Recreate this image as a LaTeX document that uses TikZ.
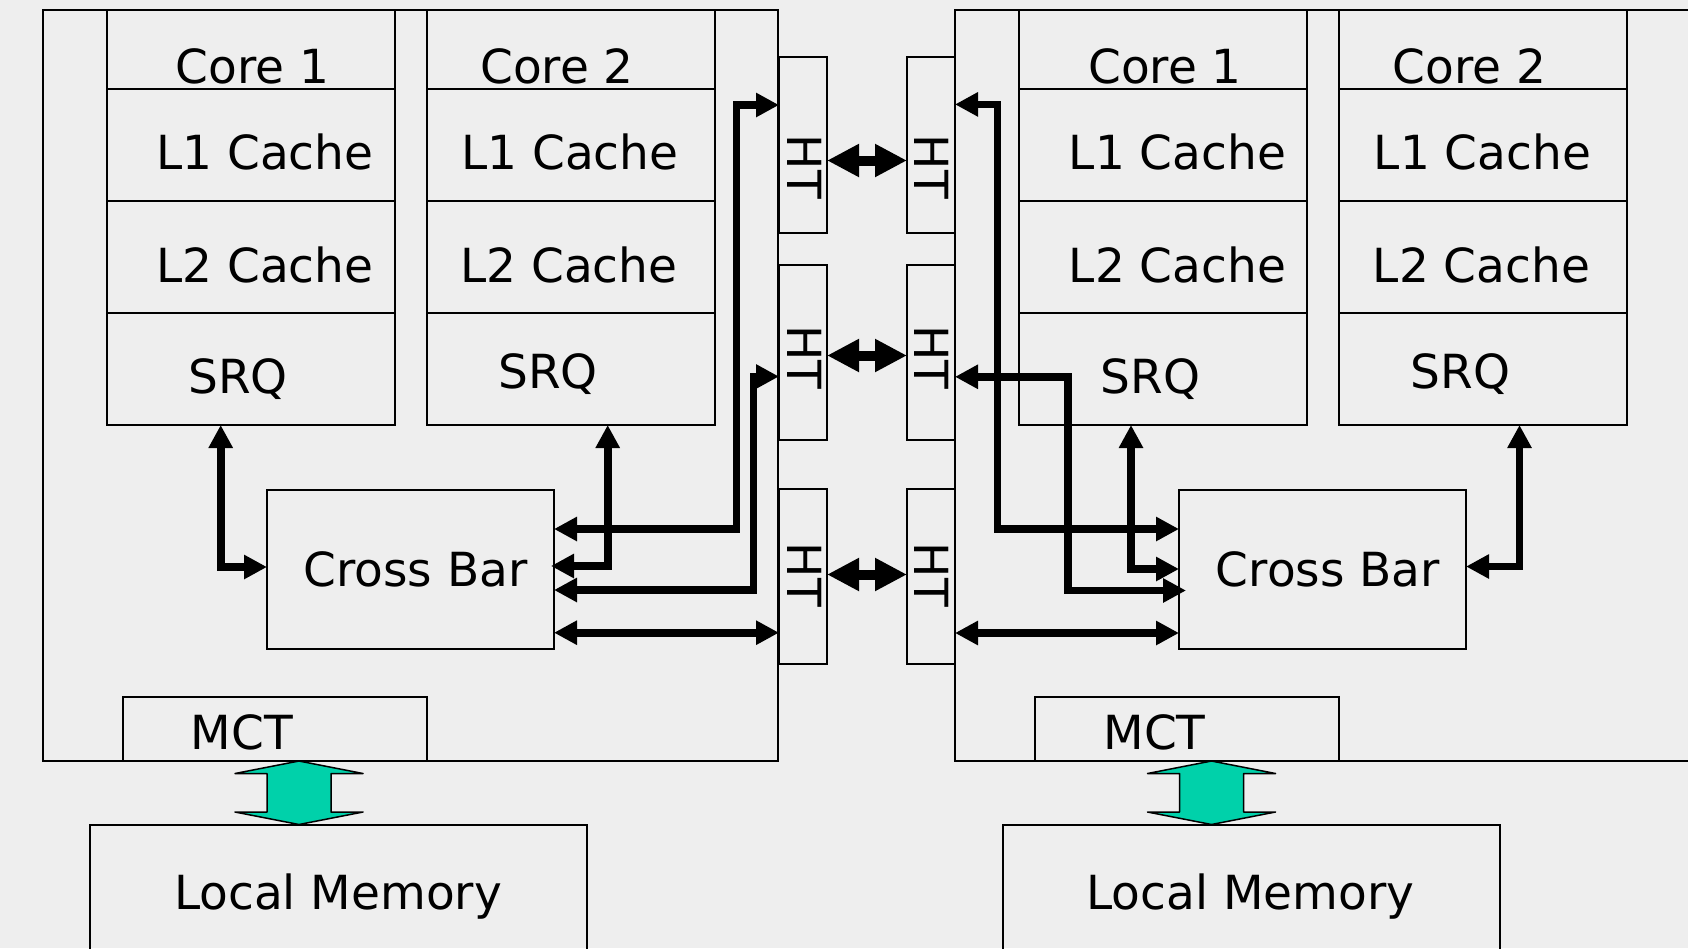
\documentclass[tikz,border=0pt]{standalone}
\usepackage{fontspec}
\setmainfont{DejaVu Sans}
\usetikzlibrary{arrows.meta}
\definecolor{bg}{HTML}{EEEEEE}
\definecolor{memgreen}{RGB}{0,209,170}
\newcommand\mkbox[5]{\node[box, minimum width={(#4-#2)*1pt}, minimum height={(#5-#3)*1pt}] (#1) at (#2,#3) {};}
\begin{document}
\begin{tikzpicture}[x=1pt,y=-1pt,
  box/.style={draw, line width=2.2pt, rectangle, inner sep=0pt, outer sep=0pt, anchor=north west},
  lbl/.style={font=\fontsize{47}{56}\selectfont, inner sep=0pt, anchor=base},
  arr/.style={line width=7.7pt, {Triangle[length=23pt,width=23pt]}-{Triangle[length=23pt,width=23pt]}},
  htarr/.style={line width=10pt, {Triangle[length=32pt,width=31pt]}-{Triangle[length=32pt,width=31pt]}},
  memarrow/.style={draw, line width=1.5pt, fill=memgreen, line join=round}]
\useasboundingbox (0,0) rectangle (1688,948);
\clip (0,0) rectangle (1688,948);
\fill[bg] (0,0) rectangle (1688,948);

% ---------- outer chip boxes ----------
\mkbox{outL}{43}{10}{778}{761}
\mkbox{outR}{955}{10}{1695}{761}

% ---------- left cores ----------
\mkbox{Lc1h}{107}{10}{395}{89}
\mkbox{Lc1a}{107}{89}{395}{201}
\mkbox{Lc1b}{107}{201}{395}{313}
\mkbox{Lc1s}{107}{313}{395}{425}
\mkbox{Lc2h}{427}{10}{715}{89}
\mkbox{Lc2a}{427}{89}{715}{201}
\mkbox{Lc2b}{427}{201}{715}{313}
\mkbox{Lc2s}{427}{313}{715}{425}
% ---------- right cores ----------
\mkbox{Rc1h}{1019}{10}{1307}{89}
\mkbox{Rc1a}{1019}{89}{1307}{201}
\mkbox{Rc1b}{1019}{201}{1307}{313}
\mkbox{Rc1s}{1019}{313}{1307}{425}
\mkbox{Rc2h}{1339}{10}{1627}{89}
\mkbox{Rc2a}{1339}{89}{1627}{201}
\mkbox{Rc2b}{1339}{201}{1627}{313}
\mkbox{Rc2s}{1339}{313}{1627}{425}

% ---------- cross bars, MCT, memory ----------
\mkbox{xbL}{267}{490}{554}{649}
\mkbox{xbR}{1179}{490}{1466}{649}
\mkbox{mctL}{123}{697}{427}{761}
\mkbox{mctR}{1035}{697}{1339}{761}
\mkbox{lmL}{90}{825}{587}{960}
\mkbox{lmR}{1003}{825}{1500}{960}

% ---------- HT boxes ----------
\mkbox{htL1}{779}{57}{827}{233}
\mkbox{htL2}{779}{265}{827}{440}
\mkbox{htL3}{779}{489}{827}{664}
\mkbox{htR1}{907}{57}{955}{233}
\mkbox{htR2}{907}{265}{955}{440}
\mkbox{htR3}{907}{489}{955}{664}

% ---------- texts left ----------
\node[lbl] (tLc1h) at (252.5,83) {Core 1};
\node[lbl] (tLc2h) at (557,83) {Core 2};
\node[lbl] (tLc1a) at (265,169) {L1 Cache};
\node[lbl] (tLc2a) at (570,169) {L1 Cache};
\node[lbl] (tLc1b) at (265,282) {L2 Cache};
\node[lbl] (tLc2b) at (569,282) {L2 Cache};
\node[lbl] (tLc1s) at (238,393) {SRQ};
\node[lbl] (tLc2s) at (548,388) {SRQ};
\node[lbl] (txbL) at (415.5,586) {Cross Bar};
\node[lbl] (tmctL) at (242,749) {MCT};
\node[lbl] (tlmL) at (338,909) {Local Memory};
% ---------- texts right ----------
\node[lbl] (tRc1h) at (1165,83) {Core 1};
\node[lbl] (tRc2h) at (1469.5,83) {Core 2};
\node[lbl] (tRc1a) at (1177.5,169) {L1 Cache};
\node[lbl] (tRc2a) at (1482.5,169) {L1 Cache};
\node[lbl] (tRc1b) at (1177.5,282) {L2 Cache};
\node[lbl] (tRc2b) at (1481.5,282) {L2 Cache};
\node[lbl] (tRc1s) at (1150.5,393) {SRQ};
\node[lbl] (tRc2s) at (1460.5,388) {SRQ};
\node[lbl] (txbR) at (1328,586) {Cross Bar};
\node[lbl] (tmctR) at (1154.5,749) {MCT};
\node[lbl] (tlmR) at (1250.5,909) {Local Memory};
% ---------- HT labels ----------
\node[lbl, rotate=-90] (thtL1) at (787,167) {HT};
\node[lbl, rotate=-90] (thtL2) at (787,357.5) {HT};
\node[lbl, rotate=-90] (thtL3) at (787,575) {HT};
\node[lbl, rotate=-90] (thtR1) at (914,167) {HT};
\node[lbl, rotate=-90] (thtR2) at (914,357.5) {HT};
\node[lbl, rotate=-90] (thtR3) at (914,575) {HT};

% ---------- HT to HT links ----------
\coordinate (h1) at (0,160.5);
\coordinate (h2) at (0,355.5);
\coordinate (h3) at (0,574.5);
\draw[htarr] (h1 -| htL1.east) -- (h1 -| htR1.west);
\draw[htarr] (h2 -| htL2.east) -- (h2 -| htR2.west);
\draw[htarr] (h3 -| htL3.east) -- (h3 -| htR3.west);

% ---------- left connectors ----------
\coordinate (a1) at (220.7,567);
\draw[arr] (Lc1s.south -| a1) -- (a1) -- (a1 -| xbL.west);
\coordinate (a2) at (607.7,566);
\draw[arr] (Lc2s.south -| a2) -- (a2) -- ([xshift=-3pt]a2 -| xbL.east);
\coordinate (a3) at (736.5,529);
\coordinate (a3t) at (736.5,105);
\draw[arr] (a3 -| xbL.east) -- (a3) -- (a3t) -- (a3t -| htL1.west);
\coordinate (a4) at (753.5,590);
\coordinate (a4t) at (753.5,376.5);
\draw[arr] (a4 -| xbL.east) -- (a4) -- (a4t) -- (a4t -| htL2.west);
\coordinate (a5) at (0,632.7);
\draw[arr] (a5 -| xbL.east) -- (a5 -| htL3.west);

% ---------- right connectors ----------
\coordinate (b1) at (997.5,104.4);
\coordinate (b1b) at (997.5,529);
\draw[arr] (b1 -| htR1.east) -- (b1) -- (b1b) -- (b1b -| xbR.west);
\coordinate (b2) at (1068,376.8);
\coordinate (b2b) at (1068,590.5);
\draw[arr] (b2 -| htR2.east) -- (b2) -- (b2b) -- ([xshift=7pt]b2b -| xbR.west);
\coordinate (b3) at (1131,569);
\draw[arr] (Rc1s.south -| b3) -- (b3) -- (b3 -| xbR.west);
\coordinate (b4) at (1519.5,566.5);
\draw[arr] (Rc2s.south -| b4) -- (b4) -- (b4 -| xbR.east);
\coordinate (b5) at (0,633);
\draw[arr] (b5 -| htR3.east) -- (b5 -| xbR.west);

% ---------- memory arrows ----------
\draw[memarrow] (299,761) -- (235,773.5) -- (267,773.5) -- (267,812) -- (235,812)
  -- (299,824.5) -- (363,812) -- (331,812) -- (331,773.5) -- (363,773.5) -- cycle;
\draw[memarrow] (1211.5,761) -- (1147.5,773.5) -- (1179.5,773.5) -- (1179.5,812) -- (1147.5,812)
  -- (1211.5,824.5) -- (1275.5,812) -- (1243.5,812) -- (1243.5,773.5) -- (1275.5,773.5) -- cycle;
\end{tikzpicture}
\end{document}
